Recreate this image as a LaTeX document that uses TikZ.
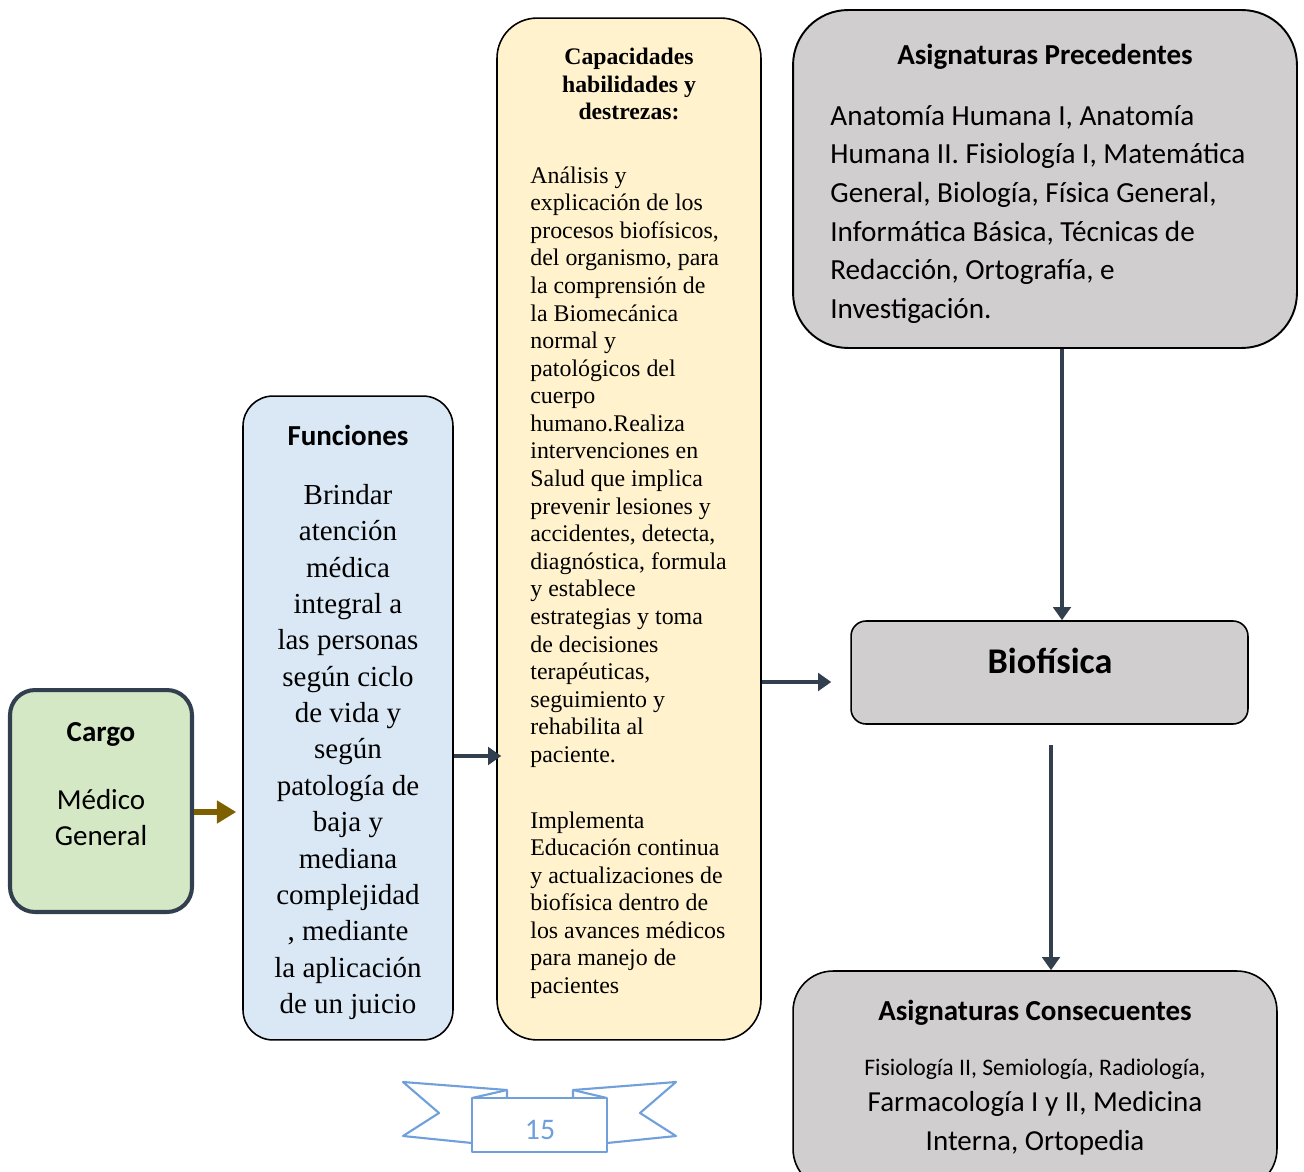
\documentclass[tikz,border=0pt]{standalone}
\usepackage{fontspec}
\setmainfont{Liberation Serif}
\newfontfamily\calibri{Carlito}
\usetikzlibrary{arrows.meta,positioning}
\definecolor{cargofill}{HTML}{D5E8C5}
\definecolor{funfill}{HTML}{DAE8F5}
\definecolor{capfill}{HTML}{FFF2CC}
\definecolor{subjfill}{HTML}{D0CECE}
\definecolor{slate}{HTML}{323F4F}
\definecolor{olive}{HTML}{7F6000}
\definecolor{ribbon}{HTML}{6FA0DC}
\tikzstyle{every node}=[inner sep=0pt]
\tikzstyle{panel}=[rectangle,
                   draw=black,
                   line width=0.9pt]
\tikzstyle{cargobox}=[panel,
                      draw=slate,
                      line width=2.3pt,
                      fill=cargofill,
                      rounded corners=0.5cm,
                      minimum width=3.64cm,
                      minimum height=4.44cm]
\tikzstyle{heading}=[font=\calibri\bfseries\fontsize{16.5}{20.5}\selectfont,
                     align=center]
\tikzstyle{calibody}=[font=\calibri\fontsize{16.5}{20.5}\selectfont,
                      align=center]
\tikzstyle{flow}=[->,draw=slate,line width=2.4pt]

\begin{document}
\begin{tikzpicture}[x=0.02cm,y=-0.02cm,>={Triangle[length=7.5pt,width=10pt]}]
\useasboundingbox (0,0) rectangle (1304,1172);
% boxes
\node (cargo) [cargobox] at (101,801) {};
\node (fun)   [panel,fill=funfill,rounded corners=0.6cm,
               minimum width=4.2cm,minimum height=12.88cm] at (348,718) {};
\node (cap)   [panel,fill=capfill,rounded corners=0.8cm,
               minimum width=5.28cm,minimum height=20.44cm] at (629,529) {};
\node (prec)  [panel,fill=subjfill,line width=1.1pt,rounded corners=1.1cm,
               minimum width=10.08cm,minimum height=6.76cm] at (1045,179) {};
\node (bio)   [panel,fill=subjfill,rounded corners=0.3cm,
               minimum width=7.94cm,minimum height=2.06cm] at (1049.5,672.5) {};
\node (cons)  [panel,fill=subjfill,rounded corners=0.8cm,
               minimum width=9.68cm,minimum height=4.36cm] at (1035,1080) {};
% texts
\node (cargo_t) [heading] at (101,734) {Cargo};
\node (cargo_b) [calibody] at (101,818) {Médico\\General};
\node (fun_t)   [heading] at (348,435) {Funciones};
\node (fun_b)   [align=center,font=\fontsize{16.5}{20.7}\selectfont] at (348,752)
  {Brindar\\atención\\médica\\integral a\\las personas\\según ciclo\\de vida y\\según\\patología de\\baja y\\mediana\\complejidad\\, mediante\\la aplicación\\de un juicio};
\node (cap_t)   [align=center,font=\bfseries\fontsize{13.5}{15.7}\selectfont] at (629,84)
  {Capacidades\\habilidades y\\destrezas:};
\node (cap_b1)  [anchor=west,align=left,font=\fontsize{13.6}{15.7}\selectfont] at (530,467)
  {Análisis y\\explicación de los\\procesos biofísicos,\\del organismo, para\\la comprensión de\\la Biomecánica\\normal y\\patológicos del\\cuerpo\\humano.Realiza\\intervenciones en\\Salud que implica\\prevenir lesiones y\\accidentes, detecta,\\diagnóstica, formula\\y establece\\estrategias y toma\\de decisiones\\terapéuticas,\\seguimiento y\\rehabilita al\\paciente.};
\node (cap_b2)  [anchor=west,align=left,font=\fontsize{13.6}{15.7}\selectfont] at (530,905)
  {Implementa\\Educación continua\\y actualizaciones de\\biofísica dentro de\\los avances médicos\\para manejo de\\pacientes};
\node (prec_t)  [heading] at (1045,57) {Asignaturas Precedentes};
\node (prec_b)  [anchor=west,align=left,font=\calibri\fontsize{16.6}{22}\selectfont] at (830,214.5)
  {Anatomía Humana I, Anatomía\\Humana II. Fisiología I, Matemática\\General, Biología, Física General,\\Informática Básica, Técnicas de\\Redacción, Ortografía, e\\Investigación.};
\node (bio_t)   [font=\calibri\bfseries\fontsize{20.6}{24}\selectfont] at (1050,661) {Biofísica};
\node (cons_t)  [heading] at (1035,1013) {Asignaturas Consecuentes};
\node (cons_b1) [font=\calibri\fontsize{13.5}{16}\selectfont] at (1035,1069)
  {Fisiología II, Semiología, Radiología,};
\node (cons_b2) [calibody,font=\calibri\fontsize{16.5}{22}\selectfont] at (1035,1123)
  {Farmacología I y II, Medicina\\Interna, Ortopedia};
% connectors
\draw[->,draw=olive,line width=3.6pt,>={Triangle[length=11pt,width=12.5pt]},shorten >=0.12cm]
  (cargo.east |- 0,812) -- (fun.west |- 0,812);
\draw[flow,shorten >=-0.1cm] (fun.east |- 0,756) -- (cap.west |- 0,756);
\draw[flow,shorten >=0.38cm] (cap.east |- 0,682) -- (bio.west |- 0,682);
\draw[flow] (prec.south -| 1062,0) -- (bio.north -| 1062,0);
\draw[flow,shorten <=0.4cm] (bio.south -| 1051,0) -- (cons.north -| 1051,0);
% page number ribbon
\begin{scope}[draw=ribbon,line width=1.2pt,line join=round]
\draw (472,1143) -- (403,1136) -- (439,1113) -- (403,1082) -- (507,1090) -- (507,1098);
\draw (472,1098) -- (507,1090);
\draw (607,1143) -- (676,1136) -- (640,1113) -- (676,1082) -- (573,1090) -- (573,1098);
\draw (607,1098) -- (573,1090);
\draw (472,1098) rectangle (607,1152);
\end{scope}
\node (page) [font=\calibri\fontsize{17}{20}\selectfont,text=ribbon] at (540,1130) {15};
\end{tikzpicture}
\end{document}
